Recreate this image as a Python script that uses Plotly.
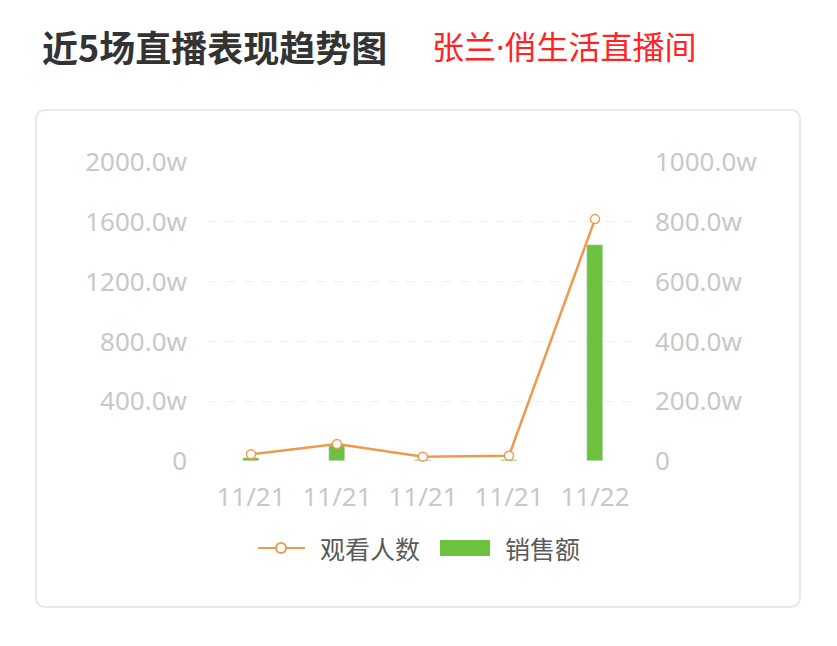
import plotly.graph_objects as go

W, H = 837, 646
OFF = 8  # browser body margin

# ---- data ----
categories = ["11/21", "11/21", "11/21", "11/21", "11/22"]
viewers = [45, 113, 29, 35, 1618]        # 观看人数 (w), left axis
sales = [9, 50, 4, 2, 722]               # 销售额 (w), right axis
left_ticks = [0, 400, 800, 1200, 1600, 2000]
left_labels = ["0", "400.0w", "800.0w", "1200.0w", "1600.0w", "2000.0w"]
right_ticks = [0, 200, 400, 600, 800, 1000]
right_labels = ["0", "200.0w", "400.0w", "600.0w", "800.0w", "1000.0w"]

x_idx = list(range(len(categories)))

ORANGE = "#ee9a4d"
GREEN = "#6cc13f"
TICK = "#c8c8c8"
FONT = "Noto Sans, Noto Sans CJK SC, sans-serif"
CJK = "Noto Sans CJK SC, sans-serif"


def px(x):
    return (x - OFF) / W


def py(y):
    return 1 - (y - OFF) / H


fig = go.Figure()
fig.add_trace(go.Bar(
    x=x_idx, y=sales, name="销售额", marker_color=GREEN,
    width=0.175, yaxis="y", xaxis="x", showlegend=False,
))
fig.add_trace(go.Scatter(
    x=x_idx, y=viewers, name="观看人数", mode="lines+markers",
    line=dict(color=ORANGE, width=2.5),
    marker=dict(symbol="circle", size=9, color="white",
                line=dict(color=ORANGE, width=1.5)),
    yaxis="y2", xaxis="x", showlegend=False, cliponaxis=False,
))

plot_x0, plot_x1 = 208, 638
plot_y0, plot_y1 = 162, 461

# rounded card
x0, y0, x1, y1, r = 36, 110, 800, 607, 10
path = (
    f"M {px(x0 + r)},{py(y0)} L {px(x1 - r)},{py(y0)} "
    f"Q {px(x1)},{py(y0)} {px(x1)},{py(y0 + r)} "
    f"L {px(x1)},{py(y1 - r)} Q {px(x1)},{py(y1)} {px(x1 - r)},{py(y1)} "
    f"L {px(x0 + r)},{py(y1)} Q {px(x0)},{py(y1)} {px(x0)},{py(y1 - r)} "
    f"L {px(x0)},{py(y0 + r)} Q {px(x0)},{py(y0)} {px(x0 + r)},{py(y0)} Z"
)
shapes = [dict(type="path", path=path, xref="paper", yref="paper",
               line=dict(color="#e9e9e9", width=2), fillcolor="white", layer="below")]

# legend (manual)
ly = 548
shapes.append(dict(type="line", xref="paper", yref="paper",
                   x0=px(258), x1=px(305), y0=py(ly), y1=py(ly),
                   line=dict(color=ORANGE, width=2)))
shapes.append(dict(type="circle", xref="paper", yref="paper",
                   x0=px(276), x1=px(286), y0=py(ly + 5), y1=py(ly - 5),
                   line=dict(color=ORANGE, width=2), fillcolor="white"))
shapes.append(dict(type="rect", xref="paper", yref="paper",
                   x0=px(440), x1=px(490), y0=py(ly + 8), y1=py(ly - 8),
                   line=dict(width=0), fillcolor=GREEN))

annotations = [
    dict(text="<b>近5场直播表现趋势图</b>", x=px(40), y=py(46), xref="paper", yref="paper",
         xanchor="left", yanchor="middle", showarrow=False,
         font=dict(family=CJK, size=36, color="#333333")),
    dict(text="张兰·俏生活直播间", x=px(430), y=py(46), xref="paper", yref="paper",
         xanchor="left", yanchor="middle", showarrow=False,
         font=dict(family=FONT, size=32, color="#ff2424")),
    dict(text="观看人数", x=px(318), y=py(ly), xref="paper", yref="paper",
         xanchor="left", yanchor="middle", showarrow=False,
         font=dict(family=CJK, size=25, color="#595959")),
    dict(text="销售额", x=px(503), y=py(ly), xref="paper", yref="paper",
         xanchor="left", yanchor="middle", showarrow=False,
         font=dict(family=CJK, size=25, color="#595959")),
]

fig.update_layout(
    width=W, height=H,
    margin=dict(l=0, r=0, t=0, b=0, autoexpand=False),
    paper_bgcolor="white", plot_bgcolor="rgba(0,0,0,0)",
    shapes=shapes, annotations=annotations,
    bargap=0,
    xaxis=dict(
        domain=[px(plot_x0), px(plot_x1)], range=[-0.5, 4.5], automargin=False,
        tickvals=x_idx, ticktext=categories, showgrid=False, zeroline=False,
        showline=False, ticks="", ticklabelstandoff=18,
        tickfont=dict(family=FONT, size=26, color=TICK), fixedrange=True,
    ),
    yaxis=dict(
        domain=[py(plot_y1), py(plot_y0)], range=[0, 1000], side="right",
        automargin=False,
        tickvals=right_ticks, ticktext=right_labels, showgrid=True,
        gridcolor="#efefef", griddash="dash", gridwidth=1, zeroline=False,
        showline=False, ticks="", ticklabelstandoff=16,
        tickfont=dict(family=FONT, size=26, color=TICK),
    ),
    yaxis2=dict(
        domain=[py(plot_y1), py(plot_y0)], range=[0, 2000], side="left",
        overlaying="y", anchor="x", automargin=False,
        tickvals=left_ticks, ticktext=left_labels, showgrid=False, zeroline=False,
        showline=False, ticks="", ticklabelstandoff=20,
        tickfont=dict(family=FONT, size=26, color=TICK),
    ),
)

fig.write_html("out.html")
